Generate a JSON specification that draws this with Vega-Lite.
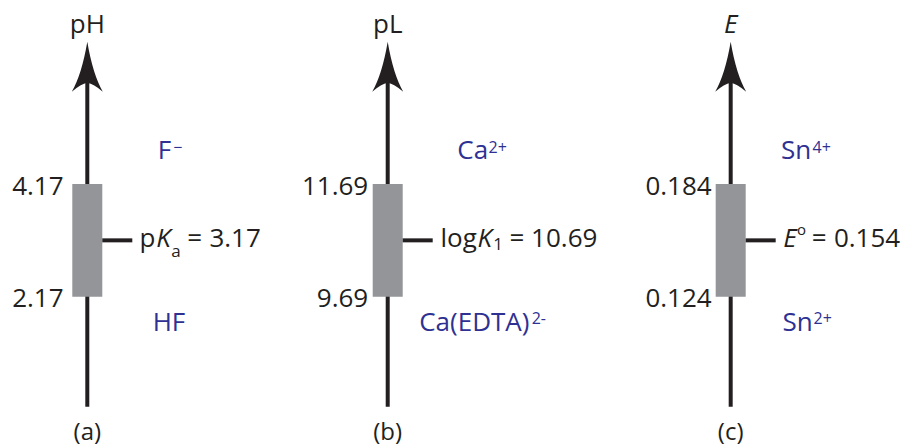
{
  "$schema": "https://vega.github.io/schema/vega-lite/v6.json",
  "padding": 0,
  "background": "white",
  "spacing": 0,
  "bounds": "flush",
  "config": {"view": {"stroke": null}, "text": {"font": "Open Sans"}},
  "datasets": {
    "a": [
      {"kind": "axis", "x": 0, "y": 0.218, "y2": 6.0156},
      {"kind": "tip", "x": 0, "y": 6.695},
      {"kind": "band", "x": -0.5, "x2": 0.5, "y": 2.17, "y2": 4.17},
      {"kind": "tick", "x": 0.5, "x2": 1.5, "y": 3.17},
      {"kind": "value", "x": -0.79, "y": 4.17, "text": "4.17"},
      {"kind": "value", "x": -0.79, "y": 2.17, "text": "2.17"},
      {"kind": "label", "x": 1.74, "y": 3.17, "text": "p"},
      {"kind": "labelItalic", "x": 2.3, "y": 3.17, "text": "K"},
      {"kind": "subLow", "x": 2.8, "y": 3.17, "text": "a"},
      {"kind": "label", "x": 3.33, "y": 3.17, "text": "="},
      {"kind": "label", "x": 4.07, "y": 3.17, "text": "3.17"},
      {"kind": "species", "x": 2.35, "y": 4.61, "text": "F"},
      {"kind": "speciesSup", "x": 2.867, "y": 4.61, "text": "−"},
      {"kind": "species", "x": 2.18, "y": 1.57, "text": "HF"},
      {"kind": "title", "x": 0, "y": 6.695, "text": "pH"},
      {"kind": "caption", "x": 0, "y": 0.218, "text": "(a)"}
    ],
    "b": [
      {"kind": "axis", "x": 0, "y": 7.738, "y2": 13.5356},
      {"kind": "tip", "x": 0, "y": 14.215},
      {"kind": "band", "x": -0.5, "x2": 0.5, "y": 9.69, "y2": 11.69},
      {"kind": "tick", "x": 0.5, "x2": 1.5, "y": 10.69},
      {"kind": "value", "x": -0.65, "y": 11.69, "text": "11.69"},
      {"kind": "value", "x": -0.65, "y": 9.69, "text": "9.69"},
      {"kind": "label", "x": 1.76, "y": 10.69, "text": "log"},
      {"kind": "labelItalic", "x": 2.99, "y": 10.69, "text": "K"},
      {"kind": "subMid", "x": 3.52, "y": 10.69, "text": "1"},
      {"kind": "label", "x": 4.06, "y": 10.69, "text": "="},
      {"kind": "label", "x": 4.78, "y": 10.69, "text": "10.69"},
      {"kind": "species", "x": 2.32, "y": 12.13, "text": "Ca"},
      {"kind": "speciesSup", "x": 3.36, "y": 12.13, "text": "2+"},
      {"kind": "species", "x": 1.05, "y": 9.09, "text": "Ca(EDTA)"},
      {"kind": "speciesSup", "x": 4.8, "y": 9.09, "text": "2-"},
      {"kind": "title", "x": 0, "y": 14.215, "text": "pL"},
      {"kind": "caption", "x": 0, "y": 7.738, "text": "(b)"}
    ],
    "c": [
      {"kind": "axis", "x": 0, "y": 0.06544, "y2": 0.23937},
      {"kind": "tip", "x": 0, "y": 0.25976},
      {"kind": "band", "x": -0.5, "x2": 0.5, "y": 0.124, "y2": 0.184},
      {"kind": "tick", "x": 0.5, "x2": 1.5, "y": 0.154},
      {"kind": "value", "x": -0.633, "y": 0.184, "text": "0.184"},
      {"kind": "value", "x": -0.633, "y": 0.124, "text": "0.124"},
      {"kind": "labelItalic", "x": 1.75, "y": 0.154, "text": "E"},
      {"kind": "supSmall", "x": 2.21, "y": 0.154, "text": "o"},
      {"kind": "label", "x": 2.7, "y": 0.154, "text": "="},
      {"kind": "label", "x": 3.44, "y": 0.154, "text": "0.154"},
      {"kind": "species", "x": 1.68, "y": 0.1972, "text": "Sn"},
      {"kind": "speciesSup", "x": 2.73, "y": 0.1972, "text": "4+"},
      {"kind": "species", "x": 1.73, "y": 0.106, "text": "Sn"},
      {"kind": "speciesSup", "x": 2.76, "y": 0.106, "text": "2+"},
      {"kind": "titleItalic", "x": 0, "y": 0.25976, "text": "E"},
      {"kind": "caption", "x": 0, "y": 0.06544, "text": "(c)"}
    ]
  },
  "hconcat": [
    {
      "width": 302, "height": 446,
      "data": {"name": "a"},
      "encoding": {
        "x": {"field": "x", "type": "quantitative", "scale": {"domain": [-2.91, 7.157], "nice": false, "zero": false}, "axis": null},
        "y": {"field": "y", "type": "quantitative", "scale": {"domain": [-0.4795, 7.4353], "nice": false, "zero": false}, "axis": null}
      },
      "layer": [
        {"transform": [{"filter": "datum.kind==='axis'"}], "mark": {"type": "rule", "strokeWidth": 4, "color": "#231f20"}, "encoding": {"y2": {"field": "y2"}}},
        {"transform": [{"filter": "datum.kind==='band'"}], "mark": {"type": "rect", "color": "#939598"}, "encoding": {"x2": {"field": "x2"}, "y2": {"field": "y2"}}},
        {"transform": [{"filter": "datum.kind==='tick'"}], "mark": {"type": "rule", "strokeWidth": 4, "color": "#231f20"}, "encoding": {"x2": {"field": "x2"}}},
        {"transform": [{"filter": "datum.kind==='tip'"}], "mark": {"type": "point", "shape": "M0,0 Q0.22,1.3 0.62,2 Q0.25,1.68 0,1.64 Q-0.25,1.68 -0.62,2 Q-0.22,1.3 0,0 Z", "size": 2500, "filled": true, "color": "#231f20", "opacity": 1, "strokeWidth": 0}},
        {"transform": [{"filter": "datum.kind==='value'"}], "mark": {"type": "text", "align": "right", "baseline": "alphabetic", "dy": 10.5, "fontSize": 26, "color": "#231f20"}, "encoding": {"text": {"field": "text"}}},
        {"transform": [{"filter": "datum.kind==='label'"}], "mark": {"type": "text", "align": "left", "baseline": "alphabetic", "dy": 6.5, "fontSize": 26, "color": "#231f20"}, "encoding": {"text": {"field": "text"}}},
        {"transform": [{"filter": "datum.kind==='labelItalic'"}], "mark": {"type": "text", "align": "left", "baseline": "alphabetic", "dy": 6.5, "fontSize": 26, "fontStyle": "italic", "color": "#231f20"}, "encoding": {"text": {"field": "text"}}},
        {"transform": [{"filter": "datum.kind==='subLow'"}], "mark": {"type": "text", "align": "left", "baseline": "alphabetic", "dy": 16.3, "fontSize": 17, "color": "#231f20"}, "encoding": {"text": {"field": "text"}}},
        {"transform": [{"filter": "datum.kind==='species'"}], "mark": {"type": "text", "align": "left", "baseline": "alphabetic", "fontSize": 26, "color": "#2e3192"}, "encoding": {"text": {"field": "text"}}},
        {"transform": [{"filter": "datum.kind==='speciesSup'"}], "mark": {"type": "text", "align": "left", "baseline": "alphabetic", "dy": -6.5, "fontSize": 16, "color": "#2e3192"}, "encoding": {"text": {"field": "text"}}},
        {"transform": [{"filter": "datum.kind==='title'"}], "mark": {"type": "text", "align": "center", "baseline": "alphabetic", "dy": -8.4, "fontSize": 26, "color": "#231f20"}, "encoding": {"text": {"field": "text"}}},
        {"transform": [{"filter": "datum.kind==='caption'"}], "mark": {"type": "text", "align": "center", "baseline": "alphabetic", "dy": 33.3, "fontSize": 24, "color": "#231f20"}, "encoding": {"text": {"field": "text"}}}
      ]
    },
    {
      "width": 302, "height": 446,
      "data": {"name": "b"},
      "encoding": {
        "x": {"field": "x", "type": "quantitative", "scale": {"domain": [-2.857, 7.21], "nice": false, "zero": false}, "axis": null},
        "y": {"field": "y", "type": "quantitative", "scale": {"domain": [7.0405, 14.9553], "nice": false, "zero": false}, "axis": null}
      },
      "layer": [
        {"transform": [{"filter": "datum.kind==='axis'"}], "mark": {"type": "rule", "strokeWidth": 4, "color": "#231f20"}, "encoding": {"y2": {"field": "y2"}}},
        {"transform": [{"filter": "datum.kind==='band'"}], "mark": {"type": "rect", "color": "#939598"}, "encoding": {"x2": {"field": "x2"}, "y2": {"field": "y2"}}},
        {"transform": [{"filter": "datum.kind==='tick'"}], "mark": {"type": "rule", "strokeWidth": 4, "color": "#231f20"}, "encoding": {"x2": {"field": "x2"}}},
        {"transform": [{"filter": "datum.kind==='tip'"}], "mark": {"type": "point", "shape": "M0,0 Q0.22,1.3 0.62,2 Q0.25,1.68 0,1.64 Q-0.25,1.68 -0.62,2 Q-0.22,1.3 0,0 Z", "size": 2500, "filled": true, "color": "#231f20", "opacity": 1, "strokeWidth": 0}},
        {"transform": [{"filter": "datum.kind==='value'"}], "mark": {"type": "text", "align": "right", "baseline": "alphabetic", "dy": 10.5, "fontSize": 26, "color": "#231f20"}, "encoding": {"text": {"field": "text"}}},
        {"transform": [{"filter": "datum.kind==='label'"}], "mark": {"type": "text", "align": "left", "baseline": "alphabetic", "dy": 6.5, "fontSize": 26, "color": "#231f20"}, "encoding": {"text": {"field": "text"}}},
        {"transform": [{"filter": "datum.kind==='labelItalic'"}], "mark": {"type": "text", "align": "left", "baseline": "alphabetic", "dy": 6.5, "fontSize": 26, "fontStyle": "italic", "color": "#231f20"}, "encoding": {"text": {"field": "text"}}},
        {"transform": [{"filter": "datum.kind==='subMid'"}], "mark": {"type": "text", "align": "left", "baseline": "alphabetic", "dy": 9.7, "fontSize": 17, "color": "#231f20"}, "encoding": {"text": {"field": "text"}}},
        {"transform": [{"filter": "datum.kind==='species'"}], "mark": {"type": "text", "align": "left", "baseline": "alphabetic", "fontSize": 26, "color": "#2e3192"}, "encoding": {"text": {"field": "text"}}},
        {"transform": [{"filter": "datum.kind==='speciesSup'"}], "mark": {"type": "text", "align": "left", "baseline": "alphabetic", "dy": -6.5, "fontSize": 16, "color": "#2e3192"}, "encoding": {"text": {"field": "text"}}},
        {"transform": [{"filter": "datum.kind==='title'"}], "mark": {"type": "text", "align": "center", "baseline": "alphabetic", "dy": -8.4, "fontSize": 26, "color": "#231f20"}, "encoding": {"text": {"field": "text"}}},
        {"transform": [{"filter": "datum.kind==='caption'"}], "mark": {"type": "text", "align": "center", "baseline": "alphabetic", "dy": 33.3, "fontSize": 24, "color": "#231f20"}, "encoding": {"text": {"field": "text"}}}
      ]
    },
    {
      "width": 303, "height": 446,
      "data": {"name": "c"},
      "encoding": {
        "x": {"field": "x", "type": "quantitative", "scale": {"domain": [-4.223, 5.877], "nice": false, "zero": false}, "axis": null},
        "y": {"field": "y", "type": "quantitative", "scale": {"domain": [0.04452, 0.28196], "nice": false, "zero": false}, "axis": null}
      },
      "layer": [
        {"transform": [{"filter": "datum.kind==='axis'"}], "mark": {"type": "rule", "strokeWidth": 4, "color": "#231f20"}, "encoding": {"y2": {"field": "y2"}}},
        {"transform": [{"filter": "datum.kind==='band'"}], "mark": {"type": "rect", "color": "#939598"}, "encoding": {"x2": {"field": "x2"}, "y2": {"field": "y2"}}},
        {"transform": [{"filter": "datum.kind==='tick'"}], "mark": {"type": "rule", "strokeWidth": 4, "color": "#231f20"}, "encoding": {"x2": {"field": "x2"}}},
        {"transform": [{"filter": "datum.kind==='tip'"}], "mark": {"type": "point", "shape": "M0,0 Q0.22,1.3 0.62,2 Q0.25,1.68 0,1.64 Q-0.25,1.68 -0.62,2 Q-0.22,1.3 0,0 Z", "size": 2500, "filled": true, "color": "#231f20", "opacity": 1, "strokeWidth": 0}},
        {"transform": [{"filter": "datum.kind==='value'"}], "mark": {"type": "text", "align": "right", "baseline": "alphabetic", "dy": 10.5, "fontSize": 26, "color": "#231f20"}, "encoding": {"text": {"field": "text"}}},
        {"transform": [{"filter": "datum.kind==='label'"}], "mark": {"type": "text", "align": "left", "baseline": "alphabetic", "dy": 6.5, "fontSize": 26, "color": "#231f20"}, "encoding": {"text": {"field": "text"}}},
        {"transform": [{"filter": "datum.kind==='labelItalic'"}], "mark": {"type": "text", "align": "left", "baseline": "alphabetic", "dy": 6.5, "fontSize": 26, "fontStyle": "italic", "color": "#231f20"}, "encoding": {"text": {"field": "text"}}},
        {"transform": [{"filter": "datum.kind==='supSmall'"}], "mark": {"type": "text", "align": "left", "baseline": "alphabetic", "dy": -5, "fontSize": 15, "color": "#231f20"}, "encoding": {"text": {"field": "text"}}},
        {"transform": [{"filter": "datum.kind==='species'"}], "mark": {"type": "text", "align": "left", "baseline": "alphabetic", "fontSize": 26, "color": "#2e3192"}, "encoding": {"text": {"field": "text"}}},
        {"transform": [{"filter": "datum.kind==='speciesSup'"}], "mark": {"type": "text", "align": "left", "baseline": "alphabetic", "dy": -6.5, "fontSize": 16, "color": "#2e3192"}, "encoding": {"text": {"field": "text"}}},
        {"transform": [{"filter": "datum.kind==='titleItalic'"}], "mark": {"type": "text", "align": "center", "baseline": "alphabetic", "dy": -8.4, "fontSize": 26, "fontStyle": "italic", "color": "#231f20"}, "encoding": {"text": {"field": "text"}}},
        {"transform": [{"filter": "datum.kind==='caption'"}], "mark": {"type": "text", "align": "center", "baseline": "alphabetic", "dy": 33.3, "fontSize": 24, "color": "#231f20"}, "encoding": {"text": {"field": "text"}}}
      ]
    }
  ]
}
